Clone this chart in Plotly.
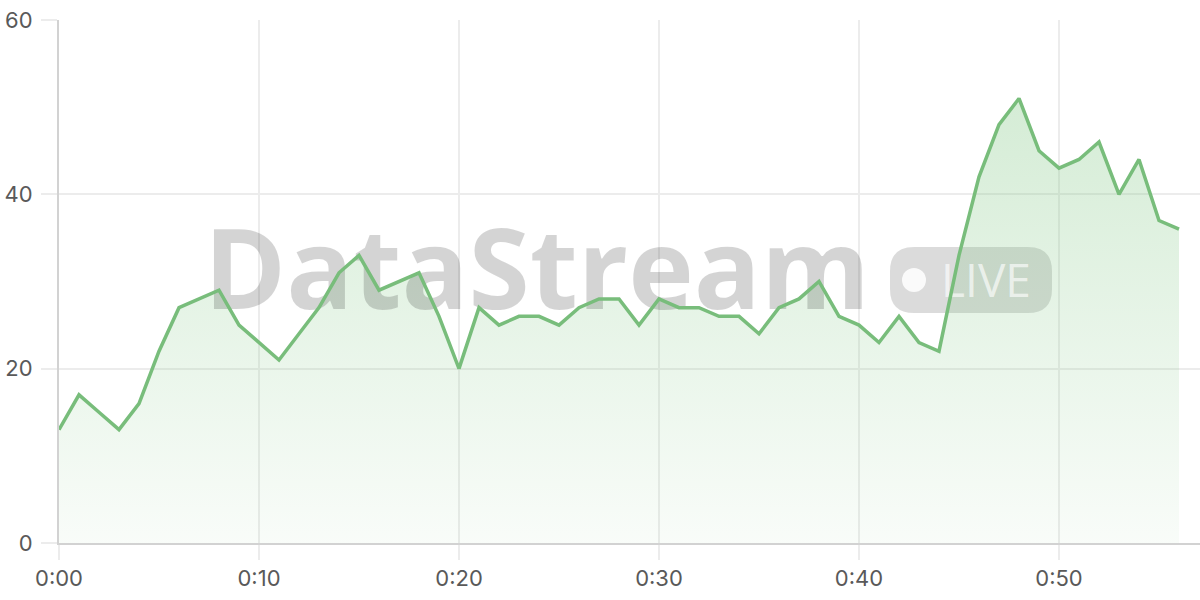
import plotly.graph_objects as go

# ---- data ----
minutes = list(range(57))
values = [13, 17, 15, 13, 16, 22, 27, 28, 29, 25,
          23, 21, 24, 27, 31, 33, 29, 30, 31, 26,
          20, 27, 25, 26, 26, 25, 27, 28, 28, 25,
          28, 27, 27, 26, 26, 24, 27, 28, 30, 26,
          25, 23, 26, 23, 22, 33, 42, 48, 51, 45,
          43, 44, 46, 40, 44, 37, 36]
x_tick_vals = [0, 10, 20, 30, 40, 50]
x_tick_text = ["0:00", "0:10", "0:20", "0:30", "0:40", "0:50"]
y_tick_vals = [0, 20, 40, 60]
watermark_title = "DataStream"
watermark_badge = "LIVE"

LINE = "#78bd7b"
FONT = "Inter"
GRID = "#ececec"

# plot-area pixel geometry (for decoration placement)
L, R, T, B = 59, 1200, 20, 543


def px(xp):
    return (xp - L) / (R - L)


def py(yp):
    return (B - yp) / (B - T)


fig = go.Figure()

# area fill with vertical gradient
fig.add_trace(go.Scatter(
    x=minutes, y=values, mode="lines", fill="tozeroy",
    line=dict(width=0, color=LINE),
    fillgradient=dict(type="vertical", start=0, stop=55,
                      colorscale=[[0, "rgba(129,199,132,0.05)"],
                                  [1, "rgba(129,199,132,0.36)"]]),
    hoverinfo="skip", showlegend=False))

# watermark text (between fill and line)
fig.add_trace(go.Scatter(
    x=[(537 - L) / 20], y=[(B - 281) / 8.717], mode="text",
    text=[watermark_title], textposition="middle center",
    textfont=dict(family="Open Sans", size=111, weight=700,
                  color="rgba(0,0,0,0.17)"),
    hoverinfo="skip", showlegend=False))

fig.add_trace(go.Scatter(
    x=[(986 - L) / 20], y=[(B - 285) / 8.717], mode="text",
    text=[watermark_badge], textposition="middle center",
    textfont=dict(family="Open Sans", size=46, weight=400,
                  color="rgba(255,255,255,0.65)"),
    hoverinfo="skip", showlegend=False))

# main line
fig.add_trace(go.Scatter(
    x=minutes, y=values, mode="lines",
    line=dict(width=3.5, color=LINE),
    hoverinfo="skip", showlegend=False))

# LIVE pill (rounded rectangle) and dot
x0, x1, y0, y1, r = 890, 1052, 247, 313, 24
pill = (f"M {px(x0 + r)} {py(y0)} L {px(x1 - r)} {py(y0)} "
        f"Q {px(x1)} {py(y0)} {px(x1)} {py(y0 + r)} "
        f"L {px(x1)} {py(y1 - r)} Q {px(x1)} {py(y1)} {px(x1 - r)} {py(y1)} "
        f"L {px(x0 + r)} {py(y1)} Q {px(x0)} {py(y1)} {px(x0)} {py(y1 - r)} "
        f"L {px(x0)} {py(y0 + r)} Q {px(x0)} {py(y0)} {px(x0 + r)} {py(y0)} Z")
fig.add_shape(type="path", path=pill, xref="paper", yref="paper",
              fillcolor="rgba(0,0,0,0.14)", line=dict(width=0), layer="between")
fig.add_shape(type="circle", xref="paper", yref="paper",
              x0=px(902), x1=px(926), y0=py(292), y1=py(268),
              fillcolor="rgba(255,255,255,0.85)", line=dict(width=0), layer="between")

fig.update_layout(
    width=1200, height=600,
    margin=dict(l=L, r=1200 - R, t=T, b=600 - B, autoexpand=False),
    paper_bgcolor="white", plot_bgcolor="white",
    font=dict(family=FONT, size=22, color="#595959"),
    xaxis=dict(range=[0, (R - L) / 20], tickvals=x_tick_vals, ticktext=x_tick_text,
               showgrid=True, gridcolor=GRID, gridwidth=1.5,
               ticks="outside", ticklen=15, tickcolor=GRID, tickwidth=1.5,
               showline=True, linecolor="#d2d2d2", linewidth=2,
               zeroline=False, fixedrange=True, automargin=False),
    yaxis=dict(range=[0, 60], tickvals=y_tick_vals,
               showgrid=True, gridcolor=GRID, gridwidth=1.5,
               ticks="outside", ticklen=16, tickcolor=GRID, tickwidth=1.5,
               showline=True, linecolor="#d2d2d2", linewidth=2,
               zeroline=False, fixedrange=True, automargin=False,
               ticklabelstandoff=4),
)

fig.write_html("out.html", config={"displayModeBar": False},
               post_script="document.body.style.margin='0';document.body.style.overflow='hidden';")
